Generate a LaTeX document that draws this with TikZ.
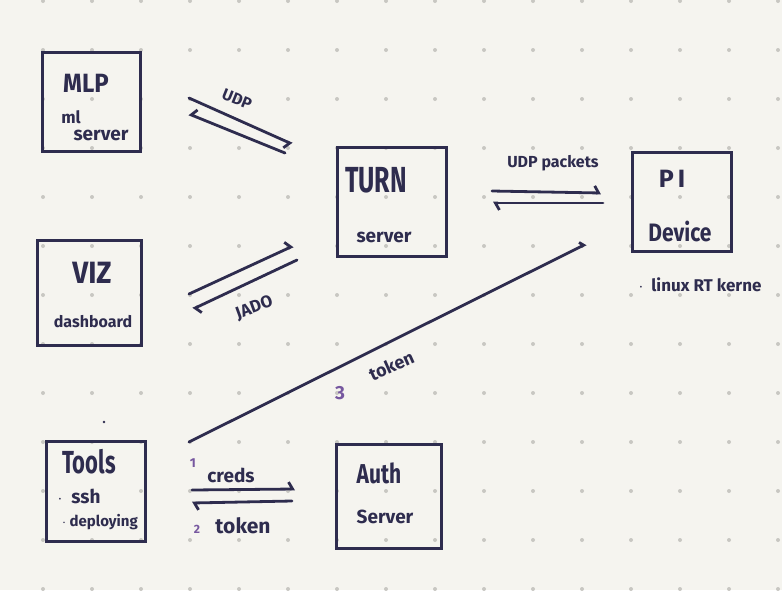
\documentclass[tikz,border=0pt]{standalone}
\usepackage{fontspec}
\setmainfont{Fira Sans}
\usetikzlibrary{arrows.meta}
\definecolor{ink}{HTML}{2E2C4E}
\definecolor{paper}{HTML}{F5F4EF}
\definecolor{dotc}{HTML}{C8C7C2}
\definecolor{num}{HTML}{76579F}
\newcommand{\fsz}[1]{\fontsize{#1}{#1}\selectfont\bfseries}
\tikzset{
  box/.style={draw=ink, line width=3pt, inner sep=0pt},
  lbl/.style={text=ink, inner sep=0pt, anchor=base},
  rlbl/.style={text=ink, inner sep=0pt, anchor=mid},
  numlbl/.style={text=num, inner sep=0pt, anchor=base},
  conn/.style={draw=ink, line width=2.8pt, line cap=round},
  hl/.style={-{Straight Barb[left,length=4pt,width=14pt]}},
  hr/.style={-{Straight Barb[right,length=4pt,width=14pt]}},
}
\begin{document}
\begin{tikzpicture}[x=1pt,y=-1pt]
\fill[paper] (0,0) rectangle (782,590);
\useasboundingbox (0,0) rectangle (782,590);
% dot grid
\foreach \i in {0,...,15} {
  \foreach \j in {0,...,12} {
    \fill[dotc] ({43+49*\i},{1+49*\j}) circle (2);
  }
}
% boxes
\node[box, minimum width=98, minimum height=99] (mlp) at (91,101.5) {};
\node[box, minimum width=104, minimum height=105] (viz) at (89,292.5) {};
\node[box, minimum width=109, minimum height=109] (turn) at (391.5,201.5) {};
\node[box, minimum width=99, minimum height=99] (pi) at (681.5,201.5) {};
\node[box, minimum width=99, minimum height=100] (tools) at (95.5,491) {};
\node[box, minimum width=105, minimum height=104] (auth) at (388.5,496) {};
% box texts (anchored at their baselines)
\node[lbl, font=\fsz{24}] (mlpT) at (86,92) {\scalebox{1}[1.1]{MLP}};
\node[lbl, font=\fsz{17}] (mlpA) at (71,123) {ml};
\node[lbl, font=\fsz{19}] (mlpB) at (101,140) {server};
\node[lbl, font=\fsz{28}] (vizT) at (92,283) {\scalebox{1}[1.1]{VIZ}};
\node[lbl, font=\fsz{16}] (vizA) at (93,327) {dashboard};
\node[lbl, font=\fsz{25}] (turnT) at (376,192) {\scalebox{1}[1.45]{TURN}};
\node[lbl, font=\fsz{19}] (turnA) at (384,242) {server};
\node[lbl, font=\fsz{25}] (piT) at (672,187) {P\,I};
\node[lbl, font=\fsz{21}] (piA) at (680,241) {\scalebox{1}[1.2]{Device}};
\node[lbl, font=\fsz{17}] (piN) at (700,291) {$\cdot$\ \ linux RT kerne};
\node[lbl, font=\fsz{22}] (toolsT) at (89,473) {\scalebox{1}[1.45]{Tools}};
\node[lbl, font=\fsz{19}] (toolsA) at (79,503) {$\cdot$\ \ ssh};
\node[lbl, font=\fsz{15}] (toolsB) at (100,526) {$\cdot$\ deploying};
\node[lbl, font=\fsz{21}] (authT) at (379,483) {\scalebox{1}[1.3]{Auth}};
\node[lbl, font=\fsz{19}] (authA) at (385,523) {Server};
\fill[ink] (104,422) circle (1.3);
% connector end points
\coordinate (a1s) at (189,98);  \coordinate (a1e) at (292,144);
\coordinate (a2s) at (285,153); \coordinate (a2e) at (189,114);
\coordinate (b1s) at (189,294); \coordinate (b1e) at (293,246);
\coordinate (b2s) at (297,260); \coordinate (b2e) at (193,309);
\coordinate (c1s) at (492,191); \coordinate (c1e) at (601,193);
\coordinate (c2s) at (603,203); \coordinate (c2e) at (493,203);
\coordinate (ts)  at (189,442); \coordinate (te)  at (586,244);
\coordinate (d1s) at (192,490); \coordinate (d1e) at (295,489);
\coordinate (d2s) at (292,501); \coordinate (d2e) at (192,503);
% connectors
\draw[conn,hr] (a1s) -- (a1e);
\draw[conn,hr] (a2s) -- (a2e);
\draw[conn,hl] (b1s) -- (b1e);
\draw[conn,hl] (b2s) -- (b2e);
\draw[conn,hl] (c1s) -- (c1e);
\draw[conn,hl] (c2s) -- (c2e);
\draw[conn,-{Straight Barb[left,length=3pt,width=9pt]}] (ts) -- (te);
\draw[conn,hl] (d1s) -- (d1e);
\draw[conn,hl] (d2s) -- (d2e);
% connector labels
\node[rlbl, font=\fsz{16}, rotate=-22] (udp1) at (236,102) {UDP};
\node[rlbl, font=\fsz{17}, rotate=20] (jado) at (255,310) {JADO};
\node[lbl, font=\fsz{16}] (udp2) at (553,167) {UDP packets};
\node[rlbl, font=\fsz{18}, rotate=24] (tok3) at (393,369) {token};
\node[numlbl, font=\fsz{19}] (n3) at (340,399) {3};
\node[lbl, font=\fsz{19}] (creds) at (231,482) {creds};
\node[numlbl, font=\fsz{13}] (n1) at (193,467) {1};
\node[lbl, font=\fsz{21}] (tok2) at (243,533) {token};
\node[numlbl, font=\fsz{12}] (n2) at (197,533) {2};
\end{tikzpicture}
\end{document}
